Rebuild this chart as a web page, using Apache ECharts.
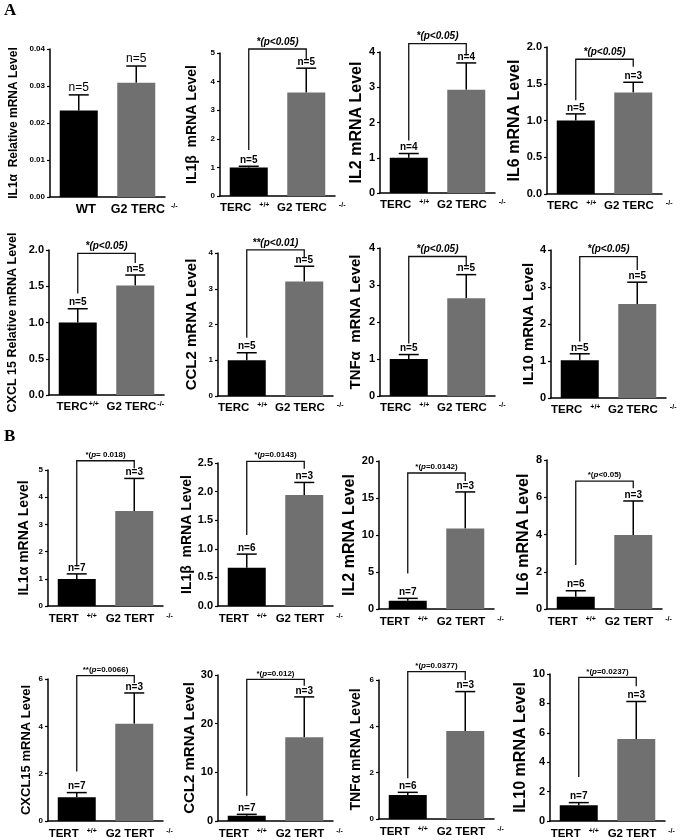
<!DOCTYPE html>
<html><head><meta charset="utf-8">
<script src="https://cdn.jsdelivr.net/npm/echarts@6/dist/echarts.min.js"></script>
<style>html,body{margin:0;padding:0;background:#fff}#c{width:683px;height:840px}</style>
</head><body><div id="c"></div>
<script>
// ---------- data ----------
const yNames = [
  'IL1α  Relative mRNA Level','IL1β  mRNA Level','IL2 mRNA Level','IL6 mRNA Level',
  'CXCL 15 Relative mRNA Level','CCL2 mRNA Level','TNFα  mRNA Level','IL10 mRNA Level',
  'IL1α mRNA Level','IL1β  mRNA Level','IL2 mRNA Level','IL6 mRNA Level',
  'CXCL15 mRNA Level','CCL2 mRNA Level','TNFα mRNA Level','IL10 mRNA Level'
];
const xCats = [
  ['WT','G2 TERC'],['TERC','G2 TERC'],['TERC','G2 TERC'],['TERC','G2 TERC'],
  ['TERC','G2 TERC'],['TERC','G2 TERC'],['TERC','G2 TERC'],['TERC','G2 TERC'],
  ['TERT','G2 TERT'],['TERT','G2 TERT'],['TERT','G2 TERT'],['TERT','G2 TERT'],
  ['TERT','G2 TERT'],['TERT','G2 TERT'],['TERT','G2 TERT'],['TERT','G2 TERT']
];
const xSups = [
  ['','-/-'],['+/+','-/-'],['+/+','-/-'],['+/+','-/-'],
  ['+/+','-/-'],['+/+','-/-'],['+/+','-/-'],['+/+','-/-'],
  ['+/+','-/-'],['+/+','-/-'],['+/+','-/-'],['+/+','-/-'],
  ['+/+','-/-'],['+/+','-/-'],['+/+','-/-'],['+/+','-/-']
];
const means = [
  [0.0234,0.0309],[1.00,3.62],[1.00,2.93],[1.00,1.38],
  [1.00,1.51],[1.00,3.20],[1.00,2.64],[1.02,2.54],
  [0.99,3.49],[0.67,1.94],[1.12,10.88],[0.66,3.97],
  [1.00,4.11],[1.10,17.2],[1.04,3.80],[1.07,5.58]
];
const errTops = [
  [0.0276,0.0354],[1.04,4.47],[1.12,3.69],[1.09,1.52],
  [1.19,1.655],[1.21,3.63],[1.12,3.28],[1.195,3.13],
  [1.18,4.69],[0.907,2.16],[1.44,15.82],[0.98,5.80],
  [1.20,5.41],[1.37,25.5],[1.15,5.5],[1.25,8.13]
];
const nLabels = [
  ['n=5','n=5'],['n=5','n=5'],['n=4','n=4'],['n=5','n=3'],
  ['n=5','n=5'],['n=5','n=5'],['n=5','n=5'],['n=5','n=5'],
  ['n=7','n=3'],['n=6','n=3'],['n=7','n=3'],['n=6','n=3'],
  ['n=7','n=3'],['n=7','n=3'],['n=6','n=3'],['n=7','n=3']
];
const pLabels = [
  '','*(p<0.05)','*(p<0.05)','*(p<0.05)',
  '*(p<0.05)','**(p<0.01)','*(p<0.05)','*(p<0.05)',
  '*(p= 0.018)','*(p=0.0143)','*(p=0.0142)','*(p<0.05)',
  '**(p=0.0066)','*(p=0.012)','*(p=0.0377)','*(p=0.0237)'
];
const bracketTop = [null,5.14,4.24,1.833,1.954,4.09,3.77,3.82,5.34,2.53,18.38,6.87,6.14,29.1,6.36,9.77];
const bracketLeftEnd = [null,1.61,1.49,1.276,1.40,1.63,1.42,1.53,1.45,1.24,4.81,2.36,2.09,5.2,1.76,3.0];
const bracketRightEnd = [null,4.77,3.9,1.73,1.82,3.86,3.50,3.46,5.06,2.40,17.3,6.48,5.83,27.8,6.0,9.16];
const yMax = [0.04,5,4,2,2,4,4,4,5,2.5,20,8,6,30,6,10];
const yStep = [0.01,1,1,0.5,0.5,1,1,1,1,0.5,5,2,2,10,2,2];
const tickDecimals = [2,0,0,1,1,0,0,0,0,1,0,0,0,0,0,0];

// ---------- layout / style ----------
const gridLeft = [50,220,380,547, 49,218,380,551, 48,218,379,547, 48,218,379,550];
const gridTop = [49,53,52,47, 250,253,248,250, 470,463,461,460, 679,675,680,674];
const gridBottomY = [197,196,193,194, 395,396,396,398, 606,606,609,609, 821,821,819,821];
const gridW = 115;
const nameSize = [12,14,16,16, 12.5,15,15,15, 14,14,16,16, 13,15,14,16];
const nameCenterX = [14,192,357,526, 13,192,356,532, 24,192,355,527, 26,192,356,525];
const tickSize = [8,8,11,11, 11,8,11,11, 8,11,11,11, 8,11,8,11];
const FONT = 'Arial, "Liberation Sans", sans-serif';
const GRAY = '#707070';

function txtStyle(fs, pad, vAlign) {
  return {fontSize: fs, fontWeight: 'bold', fontFamily: FONT, color: '#000', padding: pad, verticalAlign: vAlign || 'bottom'};
}

const grids = [], xAxes = [], yAxes = [], series = [];
for (let i = 0; i < 16; i++) {
  grids.push({left: gridLeft[i], top: gridTop[i], width: gridW, height: gridBottomY[i] - gridTop[i]});
  const tight = (i === 4);
  const first = (i === 0);
  const mainFs = first ? 12.5 : 11.5;
  xAxes.push({
    type: 'category', gridIndex: i, data: xCats[i],
    axisLine: {lineStyle: {color: '#000', width: 1.5}},
    axisTick: {show: false},
    axisLabel: {
      interval: 0, margin: i >= 8 ? 7 : 6, fontFamily: FONT, fontWeight: 'bold',
      fontSize: mainFs, color: '#000',
      formatter: function (v, idx) {
        const s = xSups[i][idx];
        if (!s) return '{w|' + v + '}';
        if (tight) return '{m|' + v + '}{t|' + s + '}';
        return idx === 0 ? '{m|' + v + '}{a|' + s + '}' : '{m2|' + v + '}{b|' + s + '}';
      },
      rich: {
        w: txtStyle(13, [0, 0, 0, 14]),
        m: txtStyle(mainFs, [0, 0, 0, 0]),
        m2: txtStyle(mainFs, [0, 0, 0, first ? 16 : 10]),
        a: txtStyle(7, [0, 8, 0, 8], 'top'),
        b: txtStyle(7, [0, 0, 0, first ? 6 : 12], 'top'),
        t: txtStyle(7, [0, 0, 0, 1], 'top')
      }
    }
  });
  yAxes.push({
    type: 'value', gridIndex: i, min: 0, max: yMax[i], interval: yStep[i],
    name: yNames[i], nameLocation: 'middle', nameRotate: 90,
    nameGap: gridLeft[i] - nameCenterX[i],
    nameTextStyle: {fontFamily: FONT, fontWeight: 'bold', fontSize: nameSize[i], color: '#000', verticalAlign: 'middle'},
    axisLine: {show: true, lineStyle: {color: '#000', width: 1.5}},
    axisTick: {show: true, length: 3, lineStyle: {color: '#000', width: 1.2}},
    splitLine: {show: false},
    axisLabel: {fontFamily: FONT, fontWeight: 'bold', fontSize: tickSize[i], color: '#000', margin: 5,
      formatter: v => Number(v).toFixed(tickDecimals[i])}
  });
  series.push({
    type: 'bar', xAxisIndex: i, yAxisIndex: i, barWidth: 38, silent: true,
    data: [{value: means[i][0], itemStyle: {color: '#000'}}, {value: means[i][1], itemStyle: {color: GRAY}}]
  });
  series.push({
    type: 'custom', xAxisIndex: i, yAxisIndex: i, silent: true,
    data: [[0, means[i][0], errTops[i][0]], [1, means[i][1], errTops[i][1]]],
    encode: {x: 0, y: [1, 2]},
    renderItem: function (params, api) {
      const x = api.value(0);
      const p0 = api.coord([x, api.value(1)]);
      const p1 = api.coord([x, api.value(2)]);
      const hw = 10;
      return {type: 'group', children: [
        {type: 'line', shape: {x1: p0[0], y1: p0[1], x2: p1[0], y2: p1[1]}, style: {stroke: '#000', lineWidth: 1.5}},
        {type: 'line', shape: {x1: p1[0] - hw, y1: p1[1], x2: p1[0] + hw, y2: p1[1]}, style: {stroke: '#000', lineWidth: 1.5}},
        {type: 'text', x: p1[0], y: p1[1] - 1, style: {text: nLabels[i][params.dataIndex],
          font: (i === 0 ? 'normal 12px ' : 'bold 10px ') + FONT, textAlign: 'center', textVerticalAlign: 'bottom', fill: '#000'}}
      ]};
    }
  });
  if (pLabels[i]) {
    series.push({
      type: 'custom', xAxisIndex: i, yAxisIndex: i, silent: true,
      data: [[bracketLeftEnd[i], bracketTop[i], bracketRightEnd[i]]],
      encode: {y: [0, 1, 2]},
      renderItem: function (params, api) {
        const a = api.coord([0, api.value(0)]);
        const b = api.coord([0, api.value(1)]);
        const c = api.coord([1, api.value(1)]);
        const d = api.coord([1, api.value(2)]);
        const txt = pLabels[i].replace('p', '{i|p}');
        const isA = i < 8;
        const fs = isA ? 10 : 8;
        return {type: 'group', children: [
          {type: 'polyline', shape: {points: [a, b, c, d]}, style: {stroke: '#111', lineWidth: 1.3, fill: null}},
          {type: 'text', x: (b[0] + c[0]) / 2, y: b[1] - 2, style: {
            text: txt, textAlign: 'center', textVerticalAlign: 'bottom', fill: '#000',
            fontFamily: FONT, fontWeight: 'bold', fontStyle: isA ? 'italic' : 'normal', fontSize: fs,
            rich: {i: {fontFamily: FONT, fontWeight: 'bold', fontStyle: 'italic', fontSize: fs, fill: '#000'}}
          }}
        ]};
      }
    });
  }
}

const chart = echarts.init(document.getElementById('c'), null, {renderer: 'canvas'});
chart.setOption({
  animation: false,
  backgroundColor: '#fff',
  grid: grids, xAxis: xAxes, yAxis: yAxes, series: series,
  graphic: [
    {type: 'text', left: 4, top: 2, style: {text: 'A', font: 'bold 17px "Liberation Serif", "Times New Roman", serif', fill: '#000'}},
    {type: 'text', left: 4, top: 428, style: {text: 'B', font: 'bold 17px "Liberation Serif", "Times New Roman", serif', fill: '#000'}}
  ]
});
</script></body></html>
